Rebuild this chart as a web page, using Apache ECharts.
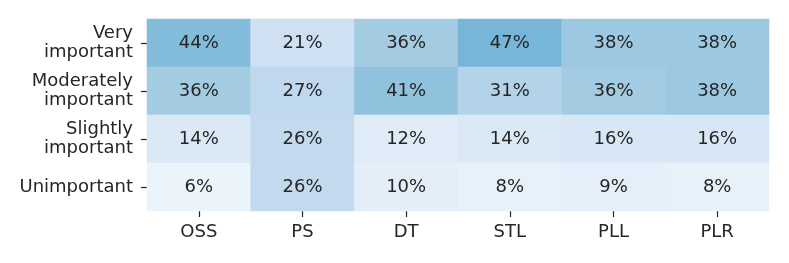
<!DOCTYPE html>
<html>
<head>
<meta charset="utf-8">
<script src="https://cdn.jsdelivr.net/npm/echarts@6/dist/echarts.min.js"></script>
<style>html,body{margin:0;padding:0;background:#fff}#c{width:789px;height:263px}</style>
</head>
<body>
<div id="c"></div>
<script>
const categories = ['OSS', 'PS', 'DT', 'STL', 'PLL', 'PLR'];
const levels = ['Very\nimportant', 'Moderately\nimportant', 'Slightly\nimportant', 'Unimportant'];
const veryImportant = [44, 21, 36, 47, 38, 38];
const moderatelyImportant = [36, 27, 41, 31, 36, 38];
const slightlyImportant = [14, 26, 12, 14, 16, 16];
const unimportant = [6, 26, 10, 8, 9, 8];

const rows = [veryImportant, moderatelyImportant, slightlyImportant, unimportant];
const data = [];
rows.forEach((r, yi) => r.forEach((v, xi) => data.push([xi, yi, v])));

const blues = ['#f7fbff','#deebf7','#c6dbef','#9ecae1','#6baed6','#4292c6','#2171b5','#08519c','#08306b'];
const textColor = '#262626';
const font = 'DejaVu Sans';

const chart = echarts.init(document.getElementById('c'), null, {renderer: 'canvas'});
chart.setOption({
  animation: false,
  grid: {left: 147, top: 19, width: 622, height: 192, containLabel: false},
  xAxis: {
    type: 'category', data: categories, position: 'bottom',
    axisLine: {show: false},
    axisTick: {show: true, length: 6, alignWithLabel: true, lineStyle: {color: textColor, width: 1.2}},
    axisLabel: {color: textColor, fontFamily: font, fontSize: 18, margin: 12},
    splitArea: {show: false}, splitLine: {show: false}
  },
  yAxis: {
    type: 'category', data: levels, inverse: true,
    axisLine: {show: false},
    axisTick: {show: true, length: 6, alignWithLabel: true, lineStyle: {color: textColor, width: 1.2}},
    axisLabel: {color: textColor, fontFamily: font, fontSize: 18, margin: 14, lineHeight: 19, align: 'right'},
    splitArea: {show: false}, splitLine: {show: false}
  },
  visualMap: {show: false, min: 0, max: 100, inRange: {color: blues}, calculable: false},
  series: [{
    type: 'heatmap',
    data: data,
    itemStyle: {borderWidth: 0},
    label: {
      show: true, color: textColor, fontFamily: font, fontSize: 18,
      formatter: p => p.value[2] + '%'
    },
    emphasis: {disabled: true}
  }]
});
</script>
</body>
</html>
